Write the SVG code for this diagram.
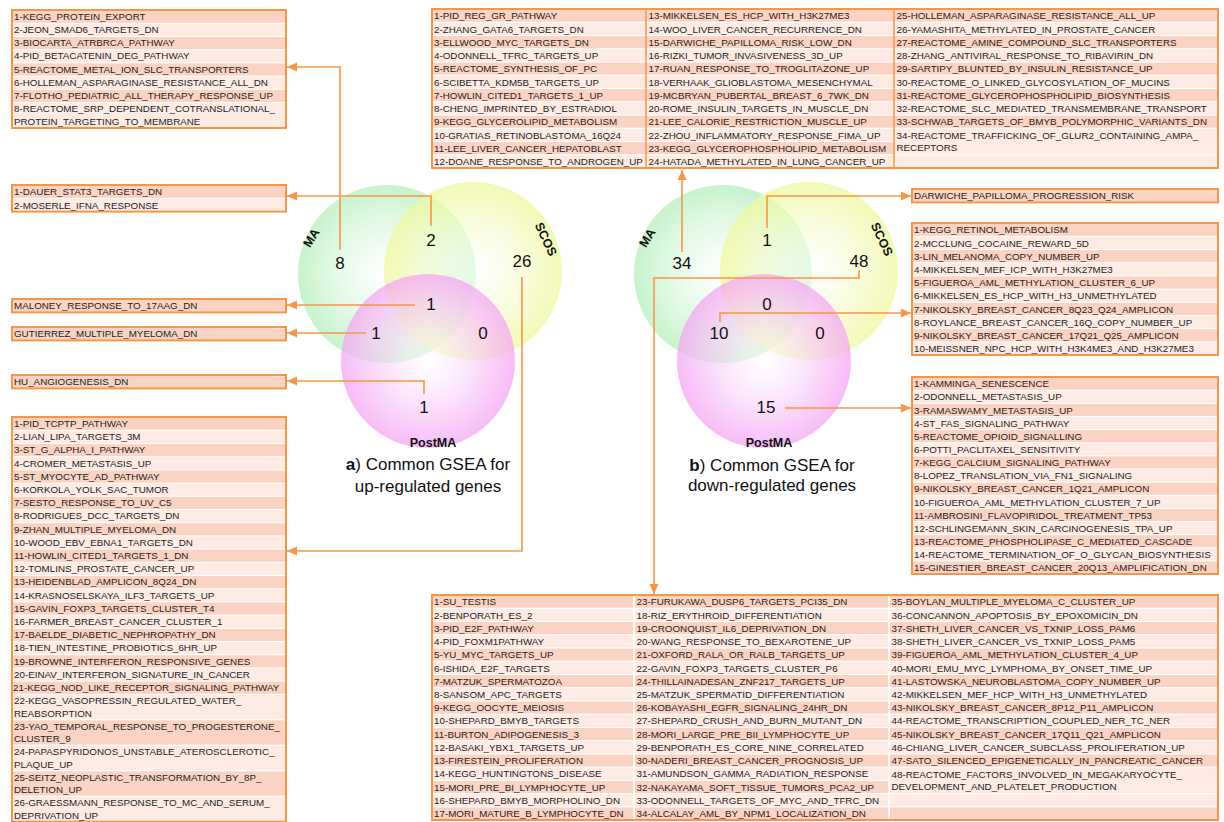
<svg xmlns="http://www.w3.org/2000/svg" width="1224" height="822" viewBox="0 0 1224 822">
<style>
.t{font-family:"Liberation Sans",Arial,sans-serif;font-size:9.8px;fill:#1e1e1e}
.d{fill:#FAD3C2}.l{fill:#FDEBE4}
.bx{fill:none;stroke:#F79646;stroke-width:2}
.cl{fill:none;stroke:#F79646;stroke-width:1.5}
.c{fill:none;stroke:#F79646;stroke-width:1.6}
.n{font-family:"Liberation Sans",Arial,sans-serif;font-size:17px;fill:#111;text-anchor:middle}
.lab{font-family:"Liberation Sans",Arial,sans-serif;font-size:12.5px;font-weight:bold;fill:#111;text-anchor:middle}
.cap{font-family:"Liberation Sans",Arial,sans-serif;font-size:17px;fill:#111;text-anchor:middle}
</style>
<defs>
<marker id="ar" markerUnits="userSpaceOnUse" markerWidth="11" markerHeight="10" refX="10" refY="4.5" orient="auto"><path d="M0,0 L10,4.5 L0,9 z" fill="#F79646"/></marker>
<radialGradient id="gG" cx="0.5" cy="0.5" r="0.5"><stop offset="0" stop-color="#ffffff" stop-opacity="0.5"/><stop offset="1" stop-color="#b3f0bb" stop-opacity="0.75"/></radialGradient>
<radialGradient id="gY" cx="0.5" cy="0.5" r="0.5"><stop offset="0" stop-color="#ffffff" stop-opacity="0.5"/><stop offset="1" stop-color="#eef79c" stop-opacity="0.75"/></radialGradient>
<radialGradient id="gP" cx="0.5" cy="0.5" r="0.5"><stop offset="0" stop-color="#ffffff" stop-opacity="0.5"/><stop offset="1" stop-color="#f4a4f4" stop-opacity="0.75"/></radialGradient>
</defs>
<rect width="1224" height="822" fill="#ffffff"/>

<g id="venn-a">
<circle cx="387" cy="274" r="89" fill="url(#gG)"/>
<circle cx="473" cy="271" r="89" fill="url(#gY)"/>
<circle cx="428" cy="361" r="87" fill="url(#gP)"/>
<text class="lab" transform="translate(315,240) rotate(-58)">MA</text>
<text class="lab" transform="translate(542,241) rotate(65)">SCOS</text>
<text class="lab" x="433" y="447">PostMA</text>
<text class="n" x="340" y="269">8</text>
<text class="n" x="431" y="246">2</text>
<text class="n" x="522" y="267">26</text>
<text class="n" x="431" y="310">1</text>
<text class="n" x="376" y="339">1</text>
<text class="n" x="483" y="339">0</text>
<text class="n" x="424" y="413">1</text>
<text class="cap" x="428" y="470"><tspan font-weight="bold">a</tspan>) Common GSEA for</text>
<text class="cap" x="428" y="492">up-regulated genes</text>
</g>

<g id="venn-b">
<circle cx="723" cy="274" r="89" fill="url(#gG)"/>
<circle cx="809" cy="271" r="89" fill="url(#gY)"/>
<circle cx="764" cy="361" r="87" fill="url(#gP)"/>
<text class="lab" transform="translate(651,240) rotate(-58)">MA</text>
<text class="lab" transform="translate(878,241) rotate(65)">SCOS</text>
<text class="lab" x="769" y="447">PostMA</text>
<text class="n" x="682" y="269">34</text>
<text class="n" x="767" y="246">1</text>
<text class="n" x="859" y="267">48</text>
<text class="n" x="767" y="310">0</text>
<text class="n" x="719" y="339">10</text>
<text class="n" x="820" y="339">0</text>
<text class="n" x="766" y="413">15</text>
<text class="cap" x="772" y="471"><tspan font-weight="bold">b</tspan>) Common GSEA for</text>
<text class="cap" x="772" y="491">down-regulated genes</text>
</g>

<g id="connectors">
<path class="c" d="M340 250 V67 H287" marker-end="url(#ar)"/>
<path class="c" d="M431 226 V196 H287" marker-end="url(#ar)"/>
<path class="c" d="M415 305 H287" marker-end="url(#ar)"/>
<path class="c" d="M366 333 H287" marker-end="url(#ar)"/>
<path class="c" d="M424 394 V381 H287" marker-end="url(#ar)"/>
<path class="c" d="M522 277 V551 H287" marker-end="url(#ar)"/>
<path class="c" d="M682 252 V170" marker-end="url(#ar)"/>
<path class="c" d="M767 228 V196 H911" marker-end="url(#ar)"/>
<path class="c" d="M859 270 V278 H654 V594" marker-end="url(#ar)"/>
<path class="c" d="M720 322 V313 H911" marker-end="url(#ar)"/>
<path class="c" d="M785 408 H911" marker-end="url(#ar)"/>
</g>

<g id="up-ma-only">
<rect class="d" x="13" y="10.6" width="272" height="12.2"/>
<rect class="l" x="13" y="23.8" width="272" height="12.2"/>
<rect class="d" x="13" y="37" width="272" height="12.2"/>
<rect class="l" x="13" y="50.2" width="272" height="12.2"/>
<rect class="d" x="13" y="63.4" width="272" height="12.2"/>
<rect class="l" x="13" y="76.6" width="272" height="12.2"/>
<rect class="d" x="13" y="89.8" width="272" height="12.2"/>
<rect class="l" x="13" y="103" width="272" height="24.4"/>
<rect class="bx" x="12" y="10" width="274" height="118"/>
<text class="t" x="14" y="19.8">1-KEGG_PROTEIN_EXPORT</text>
<text class="t" x="14" y="33">2-JEON_SMAD6_TARGETS_DN</text>
<text class="t" x="14" y="46.2">3-BIOCARTA_ATRBRCA_PATHWAY</text>
<text class="t" x="14" y="59.4">4-PID_BETACATENIN_DEG_PATHWAY</text>
<text class="t" x="14" y="72.6">5-REACTOME_METAL_ION_SLC_TRANSPORTERS</text>
<text class="t" x="14" y="85.8">6-HOLLEMAN_ASPARAGINASE_RESISTANCE_ALL_DN</text>
<text class="t" x="14" y="99">7-FLOTHO_PEDIATRIC_ALL_THERAPY_RESPONSE_UP</text>
<text class="t" x="14" y="112.4">8-REACTOME_SRP_DEPENDENT_COTRANSLATIONAL_</text>
<text class="t" x="14" y="124.8">PROTEIN_TARGETING_TO_MEMBRANE</text>
</g>

<g id="up-ma-scos">
<rect class="d" x="13" y="185.6" width="272" height="12.2"/>
<rect class="l" x="13" y="198.8" width="272" height="12.2"/>
<rect class="bx" x="12" y="185" width="274" height="26.6"/>
<text class="t" x="14" y="195.3">1-DAUER_STAT3_TARGETS_DN</text>
<text class="t" x="14" y="208.5">2-MOSERLE_IFNA_RESPONSE</text>
</g>

<g id="up-all">
<rect class="d" x="13" y="299.6" width="272" height="12.2"/>
<rect class="bx" x="12" y="299" width="274" height="13.4"/>
<text class="t" x="14" y="308.8">MALONEY_RESPONSE_TO_17AAG_DN</text>
</g>

<g id="up-ma-post">
<rect class="d" x="13" y="327.6" width="272" height="12.2"/>
<rect class="bx" x="12" y="327" width="274" height="13.4"/>
<text class="t" x="14" y="336.8">GUTIERREZ_MULTIPLE_MYELOMA_DN</text>
</g>

<g id="up-post-only">
<rect class="d" x="13" y="375.6" width="272" height="12.2"/>
<rect class="bx" x="12" y="375" width="274" height="13.4"/>
<text class="t" x="14" y="384.8">HU_ANGIOGENESIS_DN</text>
</g>

<g id="up-scos-only">
<rect class="d" x="13" y="417.6" width="272" height="12.2"/>
<rect class="l" x="13" y="430.8" width="272" height="12.2"/>
<rect class="d" x="13" y="444" width="272" height="12.2"/>
<rect class="l" x="13" y="457.2" width="272" height="12.2"/>
<rect class="d" x="13" y="470.4" width="272" height="12.2"/>
<rect class="l" x="13" y="483.6" width="272" height="12.2"/>
<rect class="d" x="13" y="496.8" width="272" height="12.2"/>
<rect class="l" x="13" y="510" width="272" height="12.2"/>
<rect class="d" x="13" y="523.2" width="272" height="12.2"/>
<rect class="l" x="13" y="536.4" width="272" height="12.2"/>
<rect class="d" x="13" y="549.6" width="272" height="12.2"/>
<rect class="l" x="13" y="562.8" width="272" height="12.2"/>
<rect class="d" x="13" y="576" width="272" height="12.2"/>
<rect class="l" x="13" y="589.2" width="272" height="12.2"/>
<rect class="d" x="13" y="602.4" width="272" height="12.2"/>
<rect class="l" x="13" y="615.6" width="272" height="12.2"/>
<rect class="d" x="13" y="628.8" width="272" height="12.2"/>
<rect class="l" x="13" y="642" width="272" height="12.2"/>
<rect class="d" x="13" y="655.2" width="272" height="12.2"/>
<rect class="l" x="13" y="668.4" width="272" height="12.2"/>
<rect class="d" x="13" y="681.6" width="272" height="12.2"/>
<rect class="l" x="13" y="694.8" width="272" height="24.3"/>
<rect class="d" x="13" y="720.3" width="272" height="24.3"/>
<rect class="l" x="13" y="745.8" width="272" height="24.3"/>
<rect class="d" x="13" y="771.3" width="272" height="24.3"/>
<rect class="l" x="13" y="796.8" width="272" height="24.3"/>
<rect class="bx" x="12" y="417" width="274" height="404.7"/>
<text class="t" x="14" y="427">1-PID_TCPTP_PATHWAY</text>
<text class="t" x="14" y="440.2">2-LIAN_LIPA_TARGETS_3M</text>
<text class="t" x="14" y="453.4">3-ST_G_ALPHA_I_PATHWAY</text>
<text class="t" x="14" y="466.6">4-CROMER_METASTASIS_UP</text>
<text class="t" x="14" y="479.8">5-ST_MYOCYTE_AD_PATHWAY</text>
<text class="t" x="14" y="493">6-KORKOLA_YOLK_SAC_TUMOR</text>
<text class="t" x="14" y="506.2">7-SESTO_RESPONSE_TO_UV_C5</text>
<text class="t" x="14" y="519.4">8-RODRIGUES_DCC_TARGETS_DN</text>
<text class="t" x="14" y="532.6">9-ZHAN_MULTIPLE_MYELOMA_DN</text>
<text class="t" x="14" y="545.8">10-WOOD_EBV_EBNA1_TARGETS_DN</text>
<text class="t" x="14" y="559">11-HOWLIN_CITED1_TARGETS_1_DN</text>
<text class="t" x="14" y="572.2">12-TOMLINS_PROSTATE_CANCER_UP</text>
<text class="t" x="14" y="585.4">13-HEIDENBLAD_AMPLICON_8Q24_DN</text>
<text class="t" x="14" y="598.6">14-KRASNOSELSKAYA_ILF3_TARGETS_UP</text>
<text class="t" x="14" y="611.8">15-GAVIN_FOXP3_TARGETS_CLUSTER_T4</text>
<text class="t" x="14" y="625">16-FARMER_BREAST_CANCER_CLUSTER_1</text>
<text class="t" x="14" y="638.2">17-BAELDE_DIABETIC_NEPHROPATHY_DN</text>
<text class="t" x="14" y="651.4">18-TIEN_INTESTINE_PROBIOTICS_6HR_UP</text>
<text class="t" x="14" y="664.6">19-BROWNE_INTERFERON_RESPONSIVE_GENES</text>
<text class="t" x="14" y="677.8">20-EINAV_INTERFERON_SIGNATURE_IN_CANCER</text>
<text class="t" x="13" y="691">21-KEGG_NOD_LIKE_RECEPTOR_SIGNALING_PATHWAY</text>
<text class="t" x="14" y="704.4">22-KEGG_VASOPRESSIN_REGULATED_WATER_</text>
<text class="t" x="14" y="716.8">REABSORPTION</text>
<text class="t" x="14" y="729.9">23-YAO_TEMPORAL_RESPONSE_TO_PROGESTERONE_</text>
<text class="t" x="14" y="742.3">CLUSTER_9</text>
<text class="t" x="14" y="755.4">24-PAPASPYRIDONOS_UNSTABLE_ATEROSCLEROTIC_</text>
<text class="t" x="14" y="767.8">PLAQUE_UP</text>
<text class="t" x="14" y="780.9">25-SEITZ_NEOPLASTIC_TRANSFORMATION_BY_8P_</text>
<text class="t" x="14" y="793.3">DELETION_UP</text>
<text class="t" x="14" y="806.4">26-GRAESSMANN_RESPONSE_TO_MC_AND_SERUM_</text>
<text class="t" x="14" y="818.8">DEPRIVATION_UP</text>
</g>

<g id="down-ma-only">
<rect class="d" x="433" y="9.6" width="784" height="12.1"/>
<rect class="l" x="433" y="22.85" width="784" height="12.1"/>
<rect class="d" x="433" y="36.1" width="784" height="12.1"/>
<rect class="l" x="433" y="49.35" width="784" height="12.1"/>
<rect class="d" x="433" y="62.6" width="784" height="12.1"/>
<rect class="l" x="433" y="75.85" width="784" height="12.1"/>
<rect class="d" x="433" y="89.1" width="784" height="12.1"/>
<rect class="l" x="433" y="102.35" width="784" height="12.1"/>
<rect class="d" x="433" y="115.6" width="784" height="12.1"/>
<rect class="l" x="433" y="128.85" width="784" height="12.1"/>
<rect class="d" x="433" y="142.1" width="784" height="12.1"/>
<rect class="l" x="433" y="155.35" width="784" height="12.1"/>
<rect class="l" x="895" y="128.85" width="322" height="25.35"/>
<line class="cl" x1="646" y1="9" x2="646" y2="168"/>
<line class="cl" x1="894" y1="9" x2="894" y2="168"/>
<rect class="bx" x="432" y="9" width="786" height="159"/>
<text class="t" x="434" y="19.3">1-PID_REG_GR_PATHWAY</text>
<text class="t" x="434" y="32.55">2-ZHANG_GATA6_TARGETS_DN</text>
<text class="t" x="434" y="45.8">3-ELLWOOD_MYC_TARGETS_DN</text>
<text class="t" x="434" y="59.05">4-ODONNELL_TFRC_TARGETS_UP</text>
<text class="t" x="434" y="72.3">5-REACTOME_SYNTHESIS_OF_PC</text>
<text class="t" x="434" y="85.55">6-SCIBETTA_KDM5B_TARGETS_UP</text>
<text class="t" x="434" y="98.8">7-HOWLIN_CITED1_TARGETS_1_UP</text>
<text class="t" x="434" y="112.05">8-CHENG_IMPRINTED_BY_ESTRADIOL</text>
<text class="t" x="434" y="125.3">9-KEGG_GLYCEROLIPID_METABOLISM</text>
<text class="t" x="434" y="138.55">10-GRATIAS_RETINOBLASTOMA_16Q24</text>
<text class="t" x="434" y="151.8">11-LEE_LIVER_CANCER_HEPATOBLAST</text>
<text class="t" x="434" y="165.05">12-DOANE_RESPONSE_TO_ANDROGEN_UP</text>
<text class="t" x="648.5" y="19.3">13-MIKKELSEN_ES_HCP_WITH_H3K27ME3</text>
<text class="t" x="648.5" y="32.55">14-WOO_LIVER_CANCER_RECURRENCE_DN</text>
<text class="t" x="648.5" y="45.8">15-DARWICHE_PAPILLOMA_RISK_LOW_DN</text>
<text class="t" x="648.5" y="59.05">16-RIZKI_TUMOR_INVASIVENESS_3D_UP</text>
<text class="t" x="648.5" y="72.3">17-RUAN_RESPONSE_TO_TROGLITAZONE_UP</text>
<text class="t" x="648.5" y="85.55">18-VERHAAK_GLIOBLASTOMA_MESENCHYMAL</text>
<text class="t" x="648.5" y="98.8">19-MCBRYAN_PUBERTAL_BREAST_6_7WK_DN</text>
<text class="t" x="648.5" y="112.05">20-ROME_INSULIN_TARGETS_IN_MUSCLE_DN</text>
<text class="t" x="648.5" y="125.3">21-LEE_CALORIE_RESTRICTION_MUSCLE_UP</text>
<text class="t" x="648.5" y="138.55">22-ZHOU_INFLAMMATORY_RESPONSE_FIMA_UP</text>
<text class="t" x="648.5" y="151.8">23-KEGG_GLYCEROPHOSPHOLIPID_METABOLISM</text>
<text class="t" x="648.5" y="165.05">24-HATADA_METHYLATED_IN_LUNG_CANCER_UP</text>
<text class="t" x="896.5" y="19.3">25-HOLLEMAN_ASPARAGINASE_RESISTANCE_ALL_UP</text>
<text class="t" x="896.5" y="32.55">26-YAMASHITA_METHYLATED_IN_PROSTATE_CANCER</text>
<text class="t" x="896.5" y="45.8">27-REACTOME_AMINE_COMPOUND_SLC_TRANSPORTERS</text>
<text class="t" x="896.5" y="59.05">28-ZHANG_ANTIVIRAL_RESPONSE_TO_RIBAVIRIN_DN</text>
<text class="t" x="896.5" y="72.3">29-SARTIPY_BLUNTED_BY_INSULIN_RESISTANCE_UP</text>
<text class="t" x="896.5" y="85.55">30-REACTOME_O_LINKED_GLYCOSYLATION_OF_MUCINS</text>
<text class="t" x="896.5" y="98.8">31-REACTOME_GLYCEROPHOSPHOLIPID_BIOSYNTHESIS</text>
<text class="t" x="896.5" y="112.05">32-REACTOME_SLC_MEDIATED_TRANSMEMBRANE_TRANSPORT</text>
<text class="t" x="896.5" y="125.3">33-SCHWAB_TARGETS_OF_BMYB_POLYMORPHIC_VARIANTS_DN</text>
<text class="t" x="896.5" y="138.55">34-REACTOME_TRAFFICKING_OF_GLUR2_CONTAINING_AMPA_</text>
<text class="t" x="896.5" y="151.3">RECEPTORS</text>
</g>

<g id="down-ma-scos">
<rect class="d" x="913" y="189.6" width="304" height="12.2"/>
<rect class="bx" x="912" y="189" width="306" height="13.4"/>
<text class="t" x="914" y="198.8">DARWICHE_PAPILLOMA_PROGRESSION_RISK</text>
</g>

<g id="down-ma-post">
<rect class="d" x="913" y="223.6" width="304" height="12.2"/>
<rect class="l" x="913" y="236.8" width="304" height="12.2"/>
<rect class="d" x="913" y="250" width="304" height="12.2"/>
<rect class="l" x="913" y="263.2" width="304" height="12.2"/>
<rect class="d" x="913" y="276.4" width="304" height="12.2"/>
<rect class="l" x="913" y="289.6" width="304" height="12.2"/>
<rect class="d" x="913" y="302.8" width="304" height="12.2"/>
<rect class="l" x="913" y="316" width="304" height="12.2"/>
<rect class="d" x="913" y="329.2" width="304" height="12.2"/>
<rect class="l" x="913" y="342.4" width="304" height="12.2"/>
<rect class="bx" x="912" y="223" width="306" height="132"/>
<text class="t" x="914" y="233.3">1-KEGG_RETINOL_METABOLISM</text>
<text class="t" x="914" y="246.5">2-MCCLUNG_COCAINE_REWARD_5D</text>
<text class="t" x="914" y="259.7">3-LIN_MELANOMA_COPY_NUMBER_UP</text>
<text class="t" x="914" y="272.9">4-MIKKELSEN_MEF_ICP_WITH_H3K27ME3</text>
<text class="t" x="914" y="286.1">5-FIGUEROA_AML_METHYLATION_CLUSTER_6_UP</text>
<text class="t" x="914" y="299.3">6-MIKKELSEN_ES_HCP_WITH_H3_UNMETHYLATED</text>
<text class="t" x="914" y="312.5">7-NIKOLSKY_BREAST_CANCER_8Q23_Q24_AMPLICON</text>
<text class="t" x="914" y="325.7">8-ROYLANCE_BREAST_CANCER_16Q_COPY_NUMBER_UP</text>
<text class="t" x="914" y="338.9">9-NIKOLSKY_BREAST_CANCER_17Q21_Q25_AMPLICON</text>
<text class="t" x="914" y="352.1">10-MEISSNER_NPC_HCP_WITH_H3K4ME3_AND_H3K27ME3</text>
</g>

<g id="down-post-only">
<rect class="d" x="913" y="377.6" width="304" height="12.1"/>
<rect class="l" x="913" y="390.73" width="304" height="12.1"/>
<rect class="d" x="913" y="403.86" width="304" height="12.1"/>
<rect class="l" x="913" y="416.99" width="304" height="12.1"/>
<rect class="d" x="913" y="430.12" width="304" height="12.1"/>
<rect class="l" x="913" y="443.25" width="304" height="12.1"/>
<rect class="d" x="913" y="456.38" width="304" height="12.1"/>
<rect class="l" x="913" y="469.51" width="304" height="12.1"/>
<rect class="d" x="913" y="482.64" width="304" height="12.1"/>
<rect class="l" x="913" y="495.77" width="304" height="12.1"/>
<rect class="d" x="913" y="508.9" width="304" height="12.1"/>
<rect class="l" x="913" y="522.03" width="304" height="12.1"/>
<rect class="d" x="913" y="535.16" width="304" height="12.1"/>
<rect class="l" x="913" y="548.29" width="304" height="12.1"/>
<rect class="d" x="913" y="561.42" width="304" height="12.1"/>
<rect class="bx" x="912" y="377" width="306" height="197"/>
<text class="t" x="914" y="387.3">1-KAMMINGA_SENESCENCE</text>
<text class="t" x="914" y="400.4">2-ODONNELL_METASTASIS_UP</text>
<text class="t" x="914" y="413.6">3-RAMASWAMY_METASTASIS_UP</text>
<text class="t" x="914" y="426.7">4-ST_FAS_SIGNALING_PATHWAY</text>
<text class="t" x="914" y="439.8">5-REACTOME_OPIOID_SIGNALLING</text>
<text class="t" x="914" y="453">6-POTTI_PACLITAXEL_SENSITIVITY</text>
<text class="t" x="914" y="466.1">7-KEGG_CALCIUM_SIGNALING_PATHWAY</text>
<text class="t" x="914" y="479.2">8-LOPEZ_TRANSLATION_VIA_FN1_SIGNALING</text>
<text class="t" x="914" y="492.3">9-NIKOLSKY_BREAST_CANCER_1Q21_AMPLICON</text>
<text class="t" x="914" y="505.5">10-FIGUEROA_AML_METHYLATION_CLUSTER_7_UP</text>
<text class="t" x="914" y="518.6">11-AMBROSINI_FLAVOPIRIDOL_TREATMENT_TP53</text>
<text class="t" x="914" y="531.7">12-SCHLINGEMANN_SKIN_CARCINOGENESIS_TPA_UP</text>
<text class="t" x="914" y="544.9">13-REACTOME_PHOSPHOLIPASE_C_MEDIATED_CASCADE</text>
<text class="t" x="914" y="558">14-REACTOME_TERMINATION_OF_O_GLYCAN_BIOSYNTHESIS</text>
<text class="t" x="914" y="571.1">15-GINESTIER_BREAST_CANCER_20Q13_AMPLIFICATION_DN</text>
</g>

<g id="down-scos-only">
<rect class="d" x="433" y="595.6" width="784" height="12.1"/>
<rect class="l" x="433" y="608.84" width="784" height="12.1"/>
<rect class="d" x="433" y="622.08" width="784" height="12.1"/>
<rect class="l" x="433" y="635.32" width="784" height="12.1"/>
<rect class="d" x="433" y="648.56" width="784" height="12.1"/>
<rect class="l" x="433" y="661.8" width="784" height="12.1"/>
<rect class="d" x="433" y="675.04" width="784" height="12.1"/>
<rect class="l" x="433" y="688.28" width="784" height="12.1"/>
<rect class="d" x="433" y="701.52" width="784" height="12.1"/>
<rect class="l" x="433" y="714.76" width="784" height="12.1"/>
<rect class="d" x="433" y="728" width="784" height="12.1"/>
<rect class="l" x="433" y="741.24" width="784" height="12.1"/>
<rect class="d" x="433" y="754.48" width="784" height="12.1"/>
<rect class="l" x="433" y="767.72" width="784" height="12.1"/>
<rect class="d" x="433" y="780.96" width="784" height="12.1"/>
<rect class="l" x="433" y="794.2" width="784" height="12.1"/>
<rect class="d" x="433" y="807.44" width="784" height="12.1"/>
<rect fill="#ffffff" x="889.5" y="767.1" width="328" height="1"/>
<rect class="l" x="890" y="767.72" width="327" height="25.34"/>
<rect fill="#ffffff" x="633" y="596" width="2" height="223"/>
<rect fill="#ffffff" x="888" y="596" width="2" height="223"/>
<rect class="bx" x="432" y="595" width="786" height="225"/>
<text class="t" x="434" y="605.3">1-SU_TESTIS</text>
<text class="t" x="434" y="618.54">2-BENPORATH_ES_2</text>
<text class="t" x="434" y="631.78">3-PID_E2F_PATHWAY</text>
<text class="t" x="434" y="645.02">4-PID_FOXM1PATHWAY</text>
<text class="t" x="434" y="658.26">5-YU_MYC_TARGETS_UP</text>
<text class="t" x="434" y="671.5">6-ISHIDA_E2F_TARGETS</text>
<text class="t" x="434" y="684.74">7-MATZUK_SPERMATOZOA</text>
<text class="t" x="434" y="697.98">8-SANSOM_APC_TARGETS</text>
<text class="t" x="434" y="711.22">9-KEGG_OOCYTE_MEIOSIS</text>
<text class="t" x="434" y="724.46">10-SHEPARD_BMYB_TARGETS</text>
<text class="t" x="434" y="737.7">11-BURTON_ADIPOGENESIS_3</text>
<text class="t" x="434" y="750.94">12-BASAKI_YBX1_TARGETS_UP</text>
<text class="t" x="434" y="764.18">13-FIRESTEIN_PROLIFERATION</text>
<text class="t" x="434" y="777.42">14-KEGG_HUNTINGTONS_DISEASE</text>
<text class="t" x="434" y="790.66">15-MORI_PRE_BI_LYMPHOCYTE_UP</text>
<text class="t" x="434" y="803.9">16-SHEPARD_BMYB_MORPHOLINO_DN</text>
<text class="t" x="434" y="817.14">17-MORI_MATURE_B_LYMPHOCYTE_DN</text>
<text class="t" x="636.5" y="605.3">23-FURUKAWA_DUSP6_TARGETS_PCI35_DN</text>
<text class="t" x="636.5" y="618.54">18-RIZ_ERYTHROID_DIFFERENTIATION</text>
<text class="t" x="636.5" y="631.78">19-CROONQUIST_IL6_DEPRIVATION_DN</text>
<text class="t" x="636.5" y="645.02">20-WANG_RESPONSE_TO_BEXAROTENE_UP</text>
<text class="t" x="636.5" y="658.26">21-OXFORD_RALA_OR_RALB_TARGETS_UP</text>
<text class="t" x="636.5" y="671.5">22-GAVIN_FOXP3_TARGETS_CLUSTER_P6</text>
<text class="t" x="636.5" y="684.74">24-THILLAINADESAN_ZNF217_TARGETS_UP</text>
<text class="t" x="636.5" y="697.98">25-MATZUK_SPERMATID_DIFFERENTIATION</text>
<text class="t" x="636.5" y="711.22">26-KOBAYASHI_EGFR_SIGNALING_24HR_DN</text>
<text class="t" x="636.5" y="724.46">27-SHEPARD_CRUSH_AND_BURN_MUTANT_DN</text>
<text class="t" x="636.5" y="737.7">28-MORI_LARGE_PRE_BII_LYMPHOCYTE_UP</text>
<text class="t" x="636.5" y="750.94">29-BENPORATH_ES_CORE_NINE_CORRELATED</text>
<text class="t" x="636.5" y="764.18">30-NADERI_BREAST_CANCER_PROGNOSIS_UP</text>
<text class="t" x="636.5" y="777.42">31-AMUNDSON_GAMMA_RADIATION_RESPONSE</text>
<text class="t" x="636.5" y="790.66">32-NAKAYAMA_SOFT_TISSUE_TUMORS_PCA2_UP</text>
<text class="t" x="636.5" y="803.9">33-ODONNELL_TARGETS_OF_MYC_AND_TFRC_DN</text>
<text class="t" x="636.5" y="817.14">34-ALCALAY_AML_BY_NPM1_LOCALIZATION_DN</text>
<text class="t" x="891.5" y="605.3">35-BOYLAN_MULTIPLE_MYELOMA_C_CLUSTER_UP</text>
<text class="t" x="891.5" y="618.54">36-CONCANNON_APOPTOSIS_BY_EPOXOMICIN_DN</text>
<text class="t" x="891.5" y="631.78">37-SHETH_LIVER_CANCER_VS_TXNIP_LOSS_PAM6</text>
<text class="t" x="891.5" y="645.02">38-SHETH_LIVER_CANCER_VS_TXNIP_LOSS_PAM5</text>
<text class="t" x="891.5" y="658.26">39-FIGUEROA_AML_METHYLATION_CLUSTER_4_UP</text>
<text class="t" x="891.5" y="671.5">40-MORI_EMU_MYC_LYMPHOMA_BY_ONSET_TIME_UP</text>
<text class="t" x="891.5" y="684.74">41-LASTOWSKA_NEUROBLASTOMA_COPY_NUMBER_UP</text>
<text class="t" x="891.5" y="697.98">42-MIKKELSEN_MEF_HCP_WITH_H3_UNMETHYLATED</text>
<text class="t" x="891.5" y="711.22">43-NIKOLSKY_BREAST_CANCER_8P12_P11_AMPLICON</text>
<text class="t" x="891.5" y="724.46">44-REACTOME_TRANSCRIPTION_COUPLED_NER_TC_NER</text>
<text class="t" x="891.5" y="737.7">45-NIKOLSKY_BREAST_CANCER_17Q11_Q21_AMPLICON</text>
<text class="t" x="891.5" y="750.94">46-CHIANG_LIVER_CANCER_SUBCLASS_PROLIFERATION_UP</text>
<text class="t" x="891.5" y="764.18">47-SATO_SILENCED_EPIGENETICALLY_IN_PANCREATIC_CANCER</text>
<text class="t" x="891.5" y="777.9">48-REACTOME_FACTORS_INVOLVED_IN_MEGAKARYOCYTE_</text>
<text class="t" x="891.5" y="790.4">DEVELOPMENT_AND_PLATELET_PRODUCTION</text>
</g>
</svg>
